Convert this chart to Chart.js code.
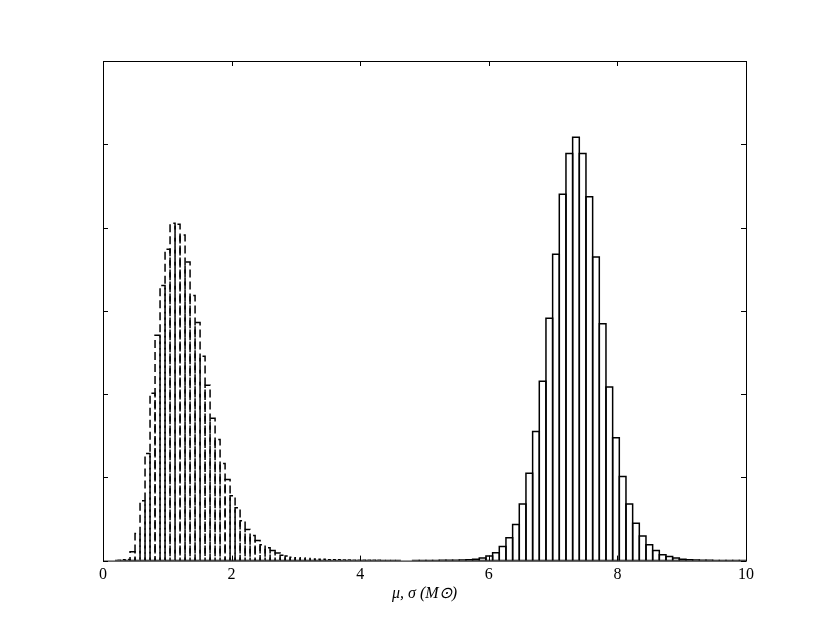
<!DOCTYPE html>
<html>
<head>
<meta charset="utf-8">
<script src="https://cdn.jsdelivr.net/npm/chart.js@4"></script>
<style>
  html, body { margin: 0; padding: 0; background: #fff; }
</style>
</head>
<body>
<canvas id="hist_chart" width="830" height="623"></canvas>
<script>
// sigma posterior (dashed), bins start at sigmaStart, each sigmaWidth wide
var sigmaStart = 0.187;
var sigmaWidth = 0.0778;
var sigmaCounts = [
    0.001, 0.002, 0.0025, 0.021, 0.065, 0.144, 0.257, 0.402, 0.541, 0.661,
    0.748, 0.810, 0.808, 0.782, 0.717, 0.637, 0.572, 0.491, 0.421, 0.342,
    0.291, 0.233, 0.195, 0.156, 0.127, 0.096, 0.075, 0.060, 0.048, 0.038,
    0.031, 0.024, 0.018, 0.013, 0.011, 0.008, 0.007, 0.006, 0.005, 0.004,
    0.003, 0.003, 0.002, 0.002, 0.002, 0.0015, 0.0015, 0.001, 0.001, 0.001,
    0.001, 0.0008, 0.0006, 0.0005, 0.0004, 0.0003, 0.0002
];
// mu posterior (solid)
var muStart = 4.815;
var muWidth = 0.1037;
var muCounts = [
    0.0003, 0.0003, 0.0004, 0.0005, 0.0006, 0.0008, 0.001, 0.0012, 0.002, 0.003,
    0.006, 0.011, 0.019, 0.034, 0.055, 0.087, 0.136, 0.210, 0.310, 0.431,
    0.582, 0.736, 0.880, 0.978, 1.017, 0.978, 0.874, 0.729, 0.569, 0.417,
    0.295, 0.202, 0.136, 0.090, 0.059, 0.038, 0.024, 0.014, 0.010, 0.006,
    0.003, 0.002, 0.0012, 0.001, 0.0007, 0.0005, 0.0005, 0.0003, 0.0003, 0.0002
];
var xTicks = [0, 2, 4, 6, 8, 10];
var xLabel = 'μ, σ (M⊙)';

function binData(start, width, counts) {
    return counts.map(function(c, i) {
        return { x: start + (i + 0.5) * width, y: c };
    });
}

// matplotlib-like outlined bars, drawn from the bar elements
var histOutline = {
    id: 'histOutline',
    afterDatasetsDraw: function(chart) {
        var ctx = chart.ctx;
        var xs = chart.scales.x;
        var area = chart.chartArea;
        ctx.save();
        ctx.beginPath();
        ctx.rect(area.left, area.top - 2, area.right - area.left, area.bottom - area.top + 2);
        ctx.clip();
        chart.data.datasets.forEach(function(ds, di) {
            var meta = chart.getDatasetMeta(di);
            ctx.strokeStyle = '#000';
            ctx.lineWidth = 1.5;
            ctx.setLineDash(ds.dashed ? [8, 4] : []);
            meta.data.forEach(function(el, i) {
                var l = xs.getPixelForValue(ds.binStart + i * ds.binWidth);
                var r = xs.getPixelForValue(ds.binStart + (i + 1) * ds.binWidth);
                var t = el.y, b = el.base;
                ctx.beginPath();
                ctx.moveTo(l, b);
                ctx.lineTo(r, b);
                ctx.lineTo(r, t);
                ctx.lineTo(l, t);
                ctx.closePath();
                ctx.stroke();
            });
        });
        ctx.restore();
    }
};

// frame with inward ticks
var frame = {
    id: 'frame',
    afterDraw: function(chart) {
        var ctx = chart.ctx;
        var a = chart.chartArea;
        var xs = chart.scales.x, ys = chart.scales.y;
        ctx.save();
        ctx.strokeStyle = '#000';
        ctx.lineWidth = 1;
        ctx.setLineDash([]);
        ctx.strokeRect(a.left + 0.5, a.top + 0.5, a.right - a.left, a.bottom - a.top);
        ctx.beginPath();
        xs.ticks.forEach(function(t) {
            var px = Math.round(xs.getPixelForValue(t.value)) + 0.5;
            ctx.moveTo(px, a.bottom); ctx.lineTo(px, a.bottom - 5);
            ctx.moveTo(px, a.top); ctx.lineTo(px, a.top + 5);
        });
        ys.ticks.forEach(function(t) {
            var py = Math.round(ys.getPixelForValue(t.value)) + 0.5;
            ctx.moveTo(a.left, py); ctx.lineTo(a.left + 5, py);
            ctx.moveTo(a.right, py); ctx.lineTo(a.right - 5, py);
        });
        ctx.stroke();
        ctx.restore();
    }
};

var ctx = document.getElementById('hist_chart');
var chart = new Chart(ctx, {
    type: 'bar',
    data: {
        datasets: [
            { label: 'sigma', data: binData(sigmaStart, sigmaWidth, sigmaCounts),
              binStart: sigmaStart, binWidth: sigmaWidth, dashed: true,
              backgroundColor: 'rgba(0,0,0,0)', borderWidth: 0, grouped: false,
              barPercentage: 1, categoryPercentage: 1 },
            { label: 'mu', data: binData(muStart, muWidth, muCounts),
              binStart: muStart, binWidth: muWidth, dashed: false,
              backgroundColor: 'rgba(0,0,0,0)', borderWidth: 0, grouped: false,
              barPercentage: 1, categoryPercentage: 1 }
        ]
    },
    options: {
        responsive: false,
        animation: false,
        layout: { padding: { left: 103, right: 84, top: 61, bottom: 20 } },
        plugins: { legend: { display: false }, tooltip: { enabled: false } },
        scales: {
            x: {
                type: 'linear', min: 0, max: 10, offset: false,
                afterBuildTicks: function(scale) {
                    scale.ticks = xTicks.map(function(v) { return { value: v }; });
                },
                ticks: { color: '#000', padding: 5, maxRotation: 0,
                         font: { family: 'Liberation Serif', size: 16 } },
                grid: { display: false, drawTicks: false },
                border: { display: false },
                title: { display: true, text: xLabel, color: '#000',
                         padding: { top: -6, bottom: 0 },
                         font: { family: 'Liberation Serif', size: 16, style: 'italic' } }
            },
            y: {
                display: false, min: 0, max: 1.2,
                ticks: { stepSize: 0.2 }
            }
        }
    },
    plugins: [histOutline, frame]
});
</script>
</body>
</html>
